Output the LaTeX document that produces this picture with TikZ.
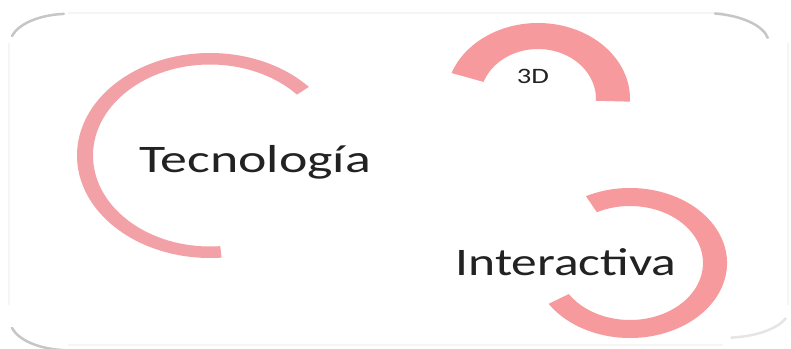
\documentclass[tikz,border=0pt]{standalone}
\usepackage{fontspec}
\setmainfont{Carlito}
\usetikzlibrary{calc}
\definecolor{ringA}{HTML}{F2A1A6}
\definecolor{ringB}{HTML}{F69A9D}
\definecolor{txt}{HTML}{222222}
\tikzset{
  lbl/.style={text=txt, inner sep=0pt, anchor=base},
  frameside/.style={draw=gray!8, line width=2pt},
  framecorner/.style={draw=gray!45, line width=2.5pt, line cap=round},
}
\begin{document}
\begin{tikzpicture}[x=1pt,y=1pt]
\useasboundingbox (0,0) rectangle (791,348);
\fill[white] (0,0) rectangle (791,348);
% frame
\draw[frameside] (68,335) -- (723,335) (788,305) -- (788,43) (723,3) -- (68,3) (9,43) -- (9,305);
\draw[framecorner] (12,312) arc[start angle=165, end angle=95, x radius=59pt, y radius=30pt];
\draw[framecorner] (715,334.5) arc[start angle=80, end angle=10, x radius=65pt, y radius=30pt];
\draw[framecorner] (12,20) arc[start angle=195, end angle=265, x radius=59pt, y radius=30pt];
\draw[draw=gray!20, line width=2.5pt] (786,30) arc[start angle=-20, end angle=-85, x radius=65pt, y radius=30pt];
% rings
\coordinate (c1) at (210,192.5);
\coordinate (c2) at (538,249);
\coordinate (c3) at (630,85);
\fill[ringA] ($(c1)+(42:133pt and 102.5pt)$) arc[start angle=42, end angle=275, x radius=133pt, y radius=102.5pt]
  -- ($(c1)+(275:117pt and 91pt)$) arc[start angle=275, end angle=42, x radius=117pt, y radius=91pt] -- cycle;
\fill[ringB] ($(c2)+(-2:92pt and 76pt)$) arc[start angle=-2, end angle=160, x radius=92pt, y radius=76pt]
  -- ($(c2)+(160:58pt and 50pt)$) arc[start angle=160, end angle=-2, x radius=58pt, y radius=50pt] -- cycle;
\fill[ringB] ($(c3)+(117:97pt and 75pt)$) arc[start angle=117, end angle=-147, x radius=97pt, y radius=75pt]
  -- ($(c3)+(-147:73pt and 57pt)$) arc[start angle=-147, end angle=117, x radius=73pt, y radius=57pt] -- cycle;
% labels
\node[lbl, font=\fontsize{39}{40}\selectfont, xscale=1.38] (tec) at (255,175) {Tecnología};
\node[lbl, font=\fontsize{39}{40}\selectfont, xscale=1.32] (int) at (566,73) {Interactiva};
\node[lbl, font=\fontsize{22}{24}\selectfont, xscale=1.3] (d3) at (533,264) {3D};
\end{tikzpicture}
\end{document}
